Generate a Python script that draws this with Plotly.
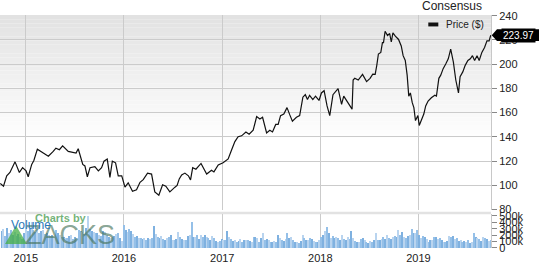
import pandas as pd
import plotly.graph_objects as go

# ---------------- data ----------------
price_dates = [
    "2014-09-28", "2014-10-10", "2014-10-22", "2014-11-03", "2014-11-22", "2014-12-08", "2014-12-20",
    "2015-01-02", "2015-01-10", "2015-01-23", "2015-01-31", "2015-02-13", "2015-03-07", "2015-03-26",
    "2015-04-13", "2015-04-23", "2015-05-06", "2015-05-18", "2015-06-08", "2015-06-27", "2015-07-07",
    "2015-07-15", "2015-07-22", "2015-08-01", "2015-08-09", "2015-08-18", "2015-08-28", "2015-09-15",
    "2015-09-28", "2015-10-10", "2015-10-19", "2015-10-31", "2015-11-10", "2015-11-19", "2015-12-01",
    "2015-12-11", "2015-12-24", "2016-01-05", "2016-01-17", "2016-02-02", "2016-02-17", "2016-03-01",
    "2016-03-13", "2016-03-29", "2016-04-13", "2016-04-25", "2016-05-10", "2016-05-24", "2016-06-05",
    "2016-06-20", "2016-07-09", "2016-07-17", "2016-07-25", "2016-08-03", "2016-08-15", "2016-08-28",
    "2016-09-05", "2016-09-13", "2016-09-25", "2016-10-14", "2016-11-04", "2016-11-22", "2016-12-01",
    "2016-12-17", "2017-01-04", "2017-01-23", "2017-02-05", "2017-02-17", "2017-03-01", "2017-03-14",
    "2017-03-30", "2017-04-11", "2017-04-26", "2017-05-09", "2017-05-21", "2017-05-31", "2017-06-15",
    "2017-06-27", "2017-07-07", "2017-07-19", "2017-07-28", "2017-08-06", "2017-08-18", "2017-08-30",
    "2017-09-09", "2017-09-19", "2017-10-04", "2017-10-16", "2017-10-28", "2017-11-06", "2017-11-14",
    "2017-11-22", "2017-12-04", "2017-12-14", "2017-12-27", "2018-01-05", "2018-01-15", "2018-01-26",
    "2018-02-05", "2018-02-17", "2018-03-08", "2018-03-21", "2018-03-29", "2018-04-14", "2018-04-23",
    "2018-04-29", "2018-05-03", "2018-05-09", "2018-05-22", "2018-06-07", "2018-06-22", "2018-07-05",
    "2018-07-15", "2018-07-24", "2018-07-30", "2018-08-05", "2018-08-14", "2018-08-20", "2018-08-24",
    "2018-08-30", "2018-09-08", "2018-09-16", "2018-09-22", "2018-09-28", "2018-10-07", "2018-10-19",
    "2018-10-29", "2018-11-05", "2018-11-13", "2018-11-20", "2018-11-26", "2018-12-02", "2018-12-09",
    "2018-12-15", "2018-12-21", "2018-12-30", "2019-01-04", "2019-01-13", "2019-01-21", "2019-01-28",
    "2019-02-06", "2019-02-18", "2019-03-03", "2019-03-09", "2019-03-18", "2019-03-25", "2019-04-03",
    "2019-04-13", "2019-04-22", "2019-05-01", "2019-05-11", "2019-05-20", "2019-05-30", "2019-06-05",
    "2019-06-15", "2019-06-24", "2019-07-04", "2019-07-13", "2019-07-21", "2019-07-29", "2019-08-07",
    "2019-08-15", "2019-08-25", "2019-09-04", "2019-09-13", "2019-09-21", "2019-09-27",
]
price_values = [
    101.4, 99.2, 107.8, 110.5, 119.3, 110.5, 114.5,
    111.8, 107.0, 117.2, 120.4, 129.8, 126.6, 123.9,
    127.9, 130.6, 129.3, 132.5, 127.9, 127.1, 126.6,
    130.1, 123.9, 117.2, 115.9, 107.0, 114.5, 115.3,
    111.8, 114.5, 119.9, 121.7, 106.5, 119.9, 118.5,
    107.8, 107.8, 98.4, 102.0, 95.0, 96.3, 102.4,
    104.6, 110.0, 109.2, 94.5, 91.8, 100.4, 99.2,
    94.5, 98.4, 99.8, 105.2, 108.4, 110.0, 107.8,
    104.4, 114.5, 113.2, 118.0, 109.2, 112.4, 111.0,
    116.7, 118.5, 121.7, 129.3, 136.0, 140.0, 140.8,
    144.0, 142.1, 145.4, 156.7, 154.7, 156.1, 143.2,
    145.4, 144.0, 150.2, 150.2, 157.5, 158.8, 164.1,
    158.3, 152.9, 156.1, 157.5, 172.7, 174.8, 170.8,
    174.3, 170.8, 173.6, 170.0, 176.2, 178.1, 165.5,
    157.5, 174.8, 179.7, 166.8, 173.6, 168.2, 164.1,
    162.8, 186.9, 188.3, 186.9, 191.5, 185.6, 188.3,
    191.7, 191.5, 199.0, 208.4, 209.7, 217.8, 217.8,
    227.2, 223.7, 225.3, 218.3, 225.8, 223.1, 220.4,
    215.0, 207.0, 203.0, 190.9, 173.6, 176.2, 168.2,
    164.1, 153.4, 157.5, 149.4, 154.7, 158.8, 165.5,
    169.5, 172.2, 174.3, 173.6, 188.3, 190.9, 196.3,
    200.3, 204.4, 212.4, 201.7, 186.9, 176.2, 189.6,
    193.6, 199.0, 203.0, 204.4, 207.0, 203.0, 207.0,
    203.0, 209.7, 213.8, 219.2, 219.2, 223.97,
]

# weekly volume (thousands), first week ending 2014-10-03
volume_2014 = [260, 300, 190, 320, 230, 280, 210, 250, 190, 220, 170, 140, 230]
volume_2015 = [330, 260, 300, 410, 280, 250, 300, 230, 260, 280, 220, 240, 200,
               190, 210, 170, 280, 230, 200, 180, 170, 150, 160, 190, 200, 140,
               170, 150, 280, 260, 250, 220, 310, 500, 300, 260, 250, 240, 230,
               200, 190, 260, 250, 200, 180, 150, 170, 190, 220, 240, 160, 110]
volume_2016 = [360, 280, 250, 300, 270, 220, 180, 190, 160, 150, 140, 150, 130,
               150, 140, 160, 340, 220, 170, 150, 190, 140, 130, 150, 170, 210,
               130, 120, 140, 250, 170, 140, 130, 120, 190, 200, 400, 180, 170,
               210, 140, 210, 180, 200, 170, 150, 130, 190, 150, 110, 100, 110]
volume_2017 = [140, 120, 130, 270, 180, 140, 110, 120, 100, 110, 140, 100, 120,
               130, 120, 110, 100, 180, 170, 160, 100, 150, 230, 130, 140, 120,
               100, 90, 110, 100, 210, 160, 120, 110, 140, 230, 150, 180, 120,
               100, 90, 80, 110, 210, 150, 130, 120, 160, 140, 110, 100, 90]
volume_2018 = [120, 180, 200, 260, 330, 240, 150, 190, 160, 170, 150, 130, 200,
               140, 130, 180, 140, 260, 160, 110, 90, 100, 140, 150, 120, 90,
               80, 110, 100, 120, 230, 130, 120, 140, 180, 140, 200, 160, 140,
               180, 190, 170, 280, 200, 250, 170, 160, 190, 200, 300, 240, 230]
volume_2019 = [280, 200, 150, 190, 180, 140, 100, 120, 130, 180, 170, 140, 150,
               120, 100, 90, 110, 190, 180, 190, 140, 150, 110, 130, 100, 110,
               90, 120, 80, 100, 230, 170, 160, 140, 110, 170, 160, 140, 110, 130]

price_ticks = [80, 100, 120, 140, 160, 180, 200, 220, 240]
volume_ticks = [0, 100, 200, 300, 400, 500]
volume_tick_labels = ["0", "100k", "200k", "300k", "400k", "500k"]
year_ticks = ["2015-01-01", "2016-01-01", "2017-01-01", "2018-01-01", "2019-01-01"]
year_labels = ["2015", "2016", "2017", "2018", "2019"]
last_price_label = "223.97"

volume = volume_2014 + volume_2015 + volume_2016 + volume_2017 + volume_2018 + volume_2019
volume_dates = pd.date_range(start="2014-10-03", periods=len(volume), freq="W-FRI")
bar_colors = ["#7fb1e0" if i % 3 == 0 else "#b9d4ef" if i % 3 == 1 else "#95c0e8"
              for i in range(len(volume))]

FONT = "Liberation Sans, Arial, sans-serif"
GRID = "#cbcbcb"

W, H = 539, 264
M_L, M_R, M_T, M_B = 0, 48, 15, 10
PLOT_W = W - M_L - M_R
PLOT_H = H - M_T - M_B
PRICE_DOMAIN = [0.165, 1.0]
PRICE_RANGE = [79.9, 240.6]


def price_to_paper(v):
    frac = (v - PRICE_RANGE[0]) / (PRICE_RANGE[1] - PRICE_RANGE[0])
    return PRICE_DOMAIN[0] + frac * (PRICE_DOMAIN[1] - PRICE_DOMAIN[0])


fig = go.Figure()

fig.add_trace(go.Bar(
    x=volume_dates, y=volume, xaxis="x", yaxis="y2",
    marker=dict(color=bar_colors, line=dict(width=0)),
    width=4.5 * 86400000, showlegend=False, hoverinfo="skip",
))
fig.add_trace(go.Scatter(
    x=price_dates, y=price_values, xaxis="x", yaxis="y",
    mode="lines", line=dict(color="#111111", width=1.2),
    showlegend=False, name="Price ($)",
))

shapes = []
# background gradient in the price panel
n_bands = 30
top, bottom = 1.0, price_to_paper(135.0)
for i in range(n_bands):
    y1 = top - (top - bottom) * i / n_bands
    y0 = top - (top - bottom) * (i + 1) / n_bands
    g = int(226 + (255 - 226) * i / (n_bands - 1))
    shapes.append(dict(type="rect", xref="paper", yref="paper", x0=0, x1=1, y0=y0, y1=y1,
                       fillcolor=f"rgb({g},{g},{g})", line=dict(width=0), layer="below"))
# separator band between panels
shapes.append(dict(type="rect", xref="paper", yref="paper", x0=0, x1=1, y0=0.1452, y1=0.156,
                   fillcolor="#e2e2e2", line=dict(width=0), layer="below"))
# legend swatch
shapes.append(dict(type="rect", xref="paper", yref="paper", x0=0.8723, x1=0.8927,
                   y0=0.951, y1=0.9678, fillcolor="#111111", line=dict(width=0)))
# last-price callout pointer
yp = price_to_paper(price_values[-1])
px = 1.0 / PLOT_W
py = 1.0 / PLOT_H
shapes.append(dict(type="path", xref="paper", yref="paper",
                   path=(f"M {1 + 0.7 * px},{yp} L {1 + 6 * px},{yp + 6 * py} "
                         f"L {1 + 48 * px},{yp + 6 * py} L {1 + 48 * px},{yp - 6 * py} "
                         f"L {1 + 6 * px},{yp - 6 * py} Z"),
                   fillcolor="#000000", line=dict(width=0), layer="above"))
# Zacks logo triangle
shapes.append(dict(type="path", xref="paper", yref="paper",
                   path="M 0.0102,0.0167 L 0.0326,0.0962 L 0.055,0.0167 Z",
                   fillcolor="rgba(70,175,70,0.75)", line=dict(width=0)))

annotations = [
    dict(text="Consensus", xref="paper", yref="paper", x=0.92, y=1.038,
         xanchor="center", yanchor="middle", showarrow=False,
         font=dict(family=FONT, size=12, color="#222222")),
    dict(text="Price ($)", xref="paper", yref="paper", x=0.9043, y=0.958,
         xanchor="left", yanchor="middle", showarrow=False,
         font=dict(family=FONT, size=10, color="#222222")),
    dict(text=last_price_label, xref="paper", yref="paper", x=1 + 27 * px, y=yp,
         xanchor="center", yanchor="middle", showarrow=False,
         bgcolor="#000000", borderpad=1,
         font=dict(family=FONT, size=10, color="#ffffff")),
    dict(text="<b>Charts by</b>", xref="paper", yref="paper", x=0.1249, y=0.13,
         xanchor="center", yanchor="middle", showarrow=False,
         font=dict(family=FONT, size=11, color="rgba(90,165,95,0.85)")),
    dict(text="ZACKS", xref="paper", yref="paper", x=0.1426, y=0.0565,
         xanchor="center", yanchor="middle", showarrow=False,
         font=dict(family=FONT, size=27, color="rgba(70,115,90,0.65)")),
    dict(text="Volume", xref="paper", yref="paper", x=0.0183, y=0.1,
         xanchor="left", yanchor="middle", showarrow=False,
         font=dict(family=FONT, size=12, color="#2b79b9")),
]

fig.update_layout(
    width=W, height=H,
    margin=dict(l=M_L, r=M_R, t=M_T, b=M_B),
    paper_bgcolor="#ffffff", plot_bgcolor="rgba(0,0,0,0)",
    bargap=0, showlegend=False,
    font=dict(family=FONT, size=11, color="#333333"),
    xaxis=dict(type="date", range=["2014-09-27", "2019-09-28"], anchor="y2",
               tickvals=year_ticks, ticktext=year_labels, showgrid=True,
               gridcolor=GRID, gridwidth=1, ticks="", showline=False, zeroline=False,
               ticklabelstandoff=2,
               tickfont=dict(family=FONT, size=11, color="#222222")),
    yaxis=dict(domain=PRICE_DOMAIN, range=PRICE_RANGE, side="right", anchor="x",
               tickvals=price_ticks, showgrid=True, gridcolor=GRID, gridwidth=1,
               ticks="outside", ticklen=5, tickcolor="#888888", showline=True,
               linecolor="#c8c8c8", zeroline=False,
               tickfont=dict(family=FONT, size=11, color="#222222")),
    yaxis2=dict(domain=[0, 0.1464], range=[0, 530], side="right", anchor="x",
                tickvals=volume_ticks, ticktext=volume_tick_labels, showgrid=False,
                ticks="outside", ticklen=5, tickcolor="#888888", showline=True,
                linecolor="#c8c8c8", zeroline=False,
                tickfont=dict(family=FONT, size=11, color="#222222")),
    shapes=shapes,
    annotations=annotations,
)

fig.write_html("out.html")
